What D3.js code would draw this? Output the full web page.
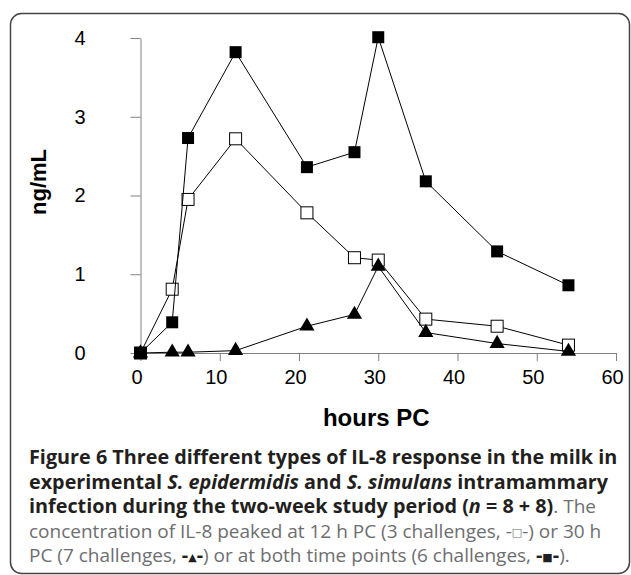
<!DOCTYPE html>
<html>
<head>
<meta charset="utf-8">
<script src="https://cdn.jsdelivr.net/npm/d3@7"></script>
<style>
  body { margin: 0; background: #fff; }
</style>
</head>
<body>
<svg id="chart" width="631" height="575"></svg>
<script>
// hours post challenge
const hours = [0, 4, 6, 12, 21, 27, 30, 36, 45, 54];
// IL-8 ng/mL, three response types
const peakBoth = [0, 0.39, 2.73, 3.82, 2.36, 2.55, 4.01, 2.18, 1.29, 0.86];
const peak12 = [0, 0.81, 1.95, 2.72, 1.78, 1.21, 1.18, 0.43, 0.34, 0.1];
const peak30 = [0, 0.01, 0.01, 0.03, 0.34, 0.49, 1.1, 0.26, 0.12, 0.02];
const xTicks = [0, 10, 20, 30, 40, 50, 60];
const yTicks = [0, 1, 2, 3, 4];

const svg = d3.select("#chart");

// frame
svg.append("rect")
  .attr("x", 10.5).attr("y", 13.5)
  .attr("width", 619).attr("height", 560)
  .attr("rx", 11)
  .attr("fill", "none")
  .attr("stroke", "#444")
  .attr("stroke-width", 1.5);

const x = d3.scaleLinear().domain([0, 60]).range([140.5, 616]);
const y = d3.scaleLinear().domain([0, 4]).range([353, 38]);

const axisColor = "#808080";

const xAxis = svg.append("g")
  .attr("transform", `translate(0,${y(0)})`)
  .call(d3.axisBottom(x).tickValues(xTicks).tickSize(8).tickSizeOuter(0).tickPadding(9));
xAxis.selectAll("text").attr("dx", -4);

const yAxis = svg.append("g")
  .attr("transform", `translate(${x(0)},0)`)
  .call(d3.axisLeft(y).tickValues(yTicks).tickFormat(d3.format("d")).tickSize(10).tickSizeOuter(0).tickPadding(45));

svg.selectAll(".domain, .tick line").attr("stroke", axisColor);
svg.selectAll(".tick text")
  .attr("font-family", "Liberation Sans, Arial, sans-serif")
  .attr("font-size", 20)
  .attr("fill", "#000");

// axis titles
svg.append("text")
  .attr("x", x(30) - 2).attr("y", 426)
  .attr("text-anchor", "middle")
  .attr("font-family", "Liberation Sans, Arial, sans-serif")
  .attr("font-weight", "bold")
  .attr("font-size", 24)
  .text("hours PC");

svg.append("text")
  .attr("transform", "translate(46,182) rotate(-90)")
  .attr("text-anchor", "middle")
  .attr("font-family", "Liberation Sans, Arial, sans-serif")
  .attr("font-weight", "bold")
  .attr("font-size", 22)
  .text("ng/mL");

const series = [
  { name: "peak12", values: peak12, shape: "openSquare" },
  { name: "peak30", values: peak30, shape: "triangle" },
  { name: "peakBoth", values: peakBoth, shape: "square" }
];

const line = d3.line()
  .x((d) => x(d.h))
  .y((d) => y(d.v));

series.forEach((s) => {
  const pts = hours.map((h, i) => ({ h: h, v: s.values[i] }));
  const g = svg.append("g").attr("class", s.name);
  g.append("path")
    .attr("d", line(pts))
    .attr("fill", "none")
    .attr("stroke", "#000")
    .attr("stroke-width", 1);
  if (s.shape === "triangle") {
    g.selectAll("path.mark").data(pts).enter().append("path")
      .attr("class", "mark")
      .attr("d", d3.symbol(d3.symbolTriangle, 100))
      .attr("transform", (d) => `translate(${x(d.h)},${y(d.v)})`)
      .attr("fill", "#000");
  } else {
    g.selectAll("rect").data(pts).enter().append("rect")
      .attr("x", (d) => x(d.h) - 6)
      .attr("y", (d) => y(d.v) - 6)
      .attr("width", 12).attr("height", 12)
      .attr("fill", s.shape === "square" ? "#000" : "#fff")
      .attr("stroke", s.shape === "square" ? "none" : "#000")
      .attr("stroke-width", 1);
  }
});

// caption
const dark = "#231f20", grey = "#6d6e70";
const cap = svg.append("text")
  .attr("font-family", "Open Sans, sans-serif")
  .attr("font-size", 19.8);

const capLines = [
  [["Figure 6 Three different types of IL-8 response in the milk in", "b"]],
  [["experimental ", "b"], ["S. epidermidis", "bi"], [" and ", "b"], ["S. simulans", "bi"], [" intramammary", "b"]],
  [["infection during the two-week study period (", "b"], ["n", "bi"], [" = 8 + 8)", "b"], [". The", "r"]],
  [["concentration of IL-8 peaked at 12 h PC (3 challenges, ", "r"], ["-", "r"], ["\u25A1", "s"], ["-", "r"], [") or 30 h", "r"]],
  [["PC (7 challenges, ", "r"], ["-", "bd"], ["\u25B2", "s"], ["-", "bd"], [") or at both time points (6 challenges, ", "r"], ["-", "bd"], ["\u25A0", "s"], ["-", "bd"], [").", "r"]]
];
const lineY = [464, 488.5, 513, 537.5, 562];

capLines.forEach((parts, li) => {
  parts.forEach((p, pi) => {
    const t = cap.append("tspan").text(p[0]);
    if (pi === 0) t.attr("x", 29).attr("y", lineY[li]);
    const st = p[1];
    t.attr("font-weight", st.startsWith("b") ? "bold" : "normal")
      .attr("font-style", st === "bi" ? "italic" : "normal")
      .attr("fill", st === "r" ? grey : dark);
    if (st === "r") t.attr("font-size", 19);
    if (st === "s") {
      t.attr("font-family", "DejaVu Sans, sans-serif")
        .attr("font-size", 11)
        .attr("dy", -1.5)
        .attr("fill", li === 3 ? grey : dark);
    }
    // undo the raise after the symbol
    if (pi > 0 && parts[pi - 1][1] === "s") t.attr("dy", 1.5);
  });
});
</script>
</body>
</html>
